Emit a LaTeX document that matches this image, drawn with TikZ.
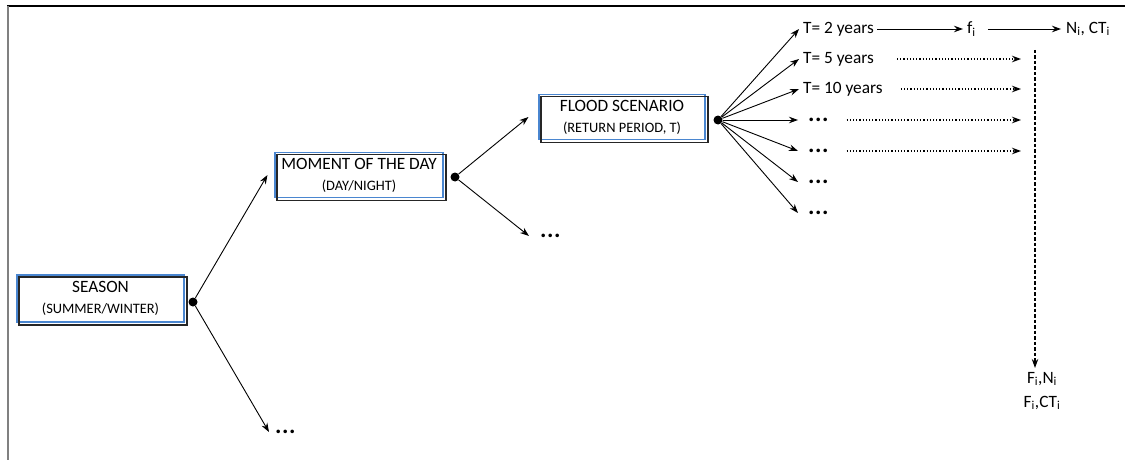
\documentclass[tikz,border=0pt]{standalone}
\usepackage{fontspec}
\setmainfont{Carlito}
\usetikzlibrary{arrows.meta,calc}
\definecolor{boxblue}{RGB}{74,134,208}
\definecolor{framegray}{RGB}{128,128,128}
\newcommand{\smalltxt}[1]{{\fontsize{14.4}{17}\selectfont #1}}
\begin{document}
\begin{tikzpicture}[x=1pt,y=-1pt,
  every node/.style={font=\fontsize{17.3}{20}\selectfont},
  stagebox/.style={draw=boxblue, line width=1.1pt, inner sep=0pt, align=center},
  shadowline/.style={draw=black!85, line width=1.4pt},
  branchdot/.style={circle, fill=black, inner sep=0pt, minimum size=9pt},
  arr/.style={-{Stealth[length=9pt,width=6.5pt]}, line width=0.9pt},
  dotarr/.style={arr, line width=1.2pt, dotted},
  dasharr/.style={arr, line width=1.1pt, dash pattern=on 3.5pt off 2pt},
  ellip/.style={font=\fontsize{24}{20}\bfseries\selectfont, inner sep=0pt, anchor=west},
  tlabel/.style={inner sep=0pt, anchor=west}
]
\useasboundingbox (0,0) rectangle (1125,460);

% frame edges
\draw[line width=1.3pt] (7,6) -- (1125,6);
\draw[framegray, line width=2pt] (8,6) -- (8,460);

% decision stages
\node[stagebox, minimum width=167pt, minimum height=47pt] (season) at (100.5,298.5)
  {SEASON\\[1pt]\smalltxt{(SUMMER/WINTER)}};
\node[stagebox, minimum width=168pt, minimum height=45pt] (moment) at (359,175)
  {MOMENT OF THE DAY\\[1pt]\smalltxt{(DAY/NIGHT)}};
\node[stagebox, minimum width=166pt, minimum height=45pt] (flood) at (622,117)
  {FLOOD SCENARIO\\[1pt]\smalltxt{(RETURN PERIOD, T)}};
\foreach \b in {season,moment,flood}
  \draw[shadowline] ($(\b.south west)+(2.5,2.5)$) rectangle ($(\b.north east)+(2.5,2.5)$);

% branching points
\node[branchdot] (d1) at (193,302) {};
\node[branchdot] (d2) at (455,177) {};
\node[branchdot] (d3) at (718,120) {};

% first two levels
\node[ellip] (e1) at (275,432) {.\kern0.5pt.\kern0.5pt.};
\node[ellip] (e2) at (540,236) {.\kern0.5pt.\kern0.5pt.};
\draw[arr] (d1) -- ([xshift=-7pt]moment.west);
\draw[arr] (d1) -- ([xshift=-6pt]e1.west);
\draw[arr] (d2) -- ([xshift=-10pt]flood.west);
\draw[arr] (d2) -- ([xshift=-11pt]e2.west);

% return periods
\node[tlabel] (t2) at (803,29) {T= 2 years};
\node[tlabel] (t5) at (803,59) {T= 5 years};
\node[tlabel] (t10) at (803,89) {T= 10 years};
\node[ellip] (k4) at (808,120) {.\kern0.5pt.\kern0.5pt.};
\node[ellip] (k5) at (808,151) {.\kern0.5pt.\kern0.5pt.};
\node[ellip] (k6) at (808,182) {.\kern0.5pt.\kern0.5pt.};
\node[ellip] (k7) at (808,213) {.\kern0.5pt.\kern0.5pt.};
\foreach \t in {t2,t5,t10}
  \draw[arr] (d3) -- ([xshift=-4pt]\t.west);
\foreach \k in {k4,k5,k6,k7}
  \draw[arr] (d3) -- ([xshift=-10pt]\k.west);

% outcome chain
\node[tlabel] (f) at (967,29) {f\textsubscript{i}};
\node[tlabel] (nc) at (1066,29) {N\textsubscript{i}, CT\textsubscript{i}};
\draw[arr] ([xshift=3pt]t2.east) -- ([xshift=-4pt]f.west);
\draw[arr] ([xshift=12pt]f.east) -- ([xshift=-5pt]nc.west);

% aggregation
\coordinate (vtop) at (1035,50);
\node[inner sep=0pt, align=center, font=\fontsize{17.3}{24}\selectfont] (fout) at (1042,391)
  {F\textsubscript{i},N\textsubscript{i}\\F\textsubscript{i},CT\textsubscript{i}};
\draw[dasharr] (vtop) -- ($(fout.north -| vtop)+(0,-4)$);
\draw[dotarr] ([xshift=23pt]t5.east) -- ($(t5.east -| vtop)+(-14,0)$);
\draw[dotarr] ([xshift=18pt]t10.east) -- ($(t10.east -| vtop)+(-14,0)$);
\draw[dotarr] ([xshift=18pt]k4.east) -- ($(k4.east -| vtop)+(-14,0)$);
\draw[dotarr] ([xshift=18pt]k5.east) -- ($(k5.east -| vtop)+(-14,0)$);
\end{tikzpicture}
\end{document}
